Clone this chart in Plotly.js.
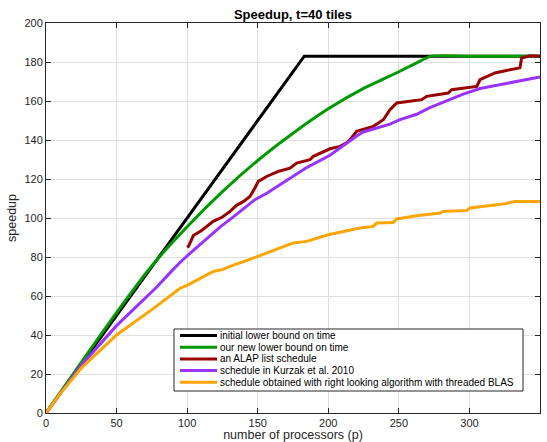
<!DOCTYPE html>
<html>
<head>
<meta charset="utf-8">
<script src="https://cdn.plot.ly/plotly-3.0.1.min.js"></script>
<style>html,body{margin:0;padding:0;background:#fff;}#chart{width:547px;height:442px;}</style>
</head>
<body>
<div id="chart"></div>
<script>
// ---- data ----
const seriesNames = [
  "initial lower bound on time",
  "our new lower bound on time",
  "an ALAP list schedule",
  "schedule in Kurzak et al. 2010",
  "schedule obtained with right looking algorithm with threaded BLAS"
];
const seriesColors = ["#000000", "#009900", "#990000", "#9933ff", "#ffa500"];

const pInitial = [0, 183, 350];
const sInitial = [0, 183, 183];

const pNewBound = [0, 25, 50, 75, 100, 125, 150, 175, 200, 225, 250, 262, 273, 300, 350];
const sNewBound = [0, 26, 51.5, 75.5, 95.5, 113.5, 129.5, 143.5, 156, 166.5, 175, 179.3, 183, 183, 183];

const pAlap = [100, 101, 104.4, 110, 118.5, 125, 130.4, 135, 140, 144.5, 148, 150.4, 156.3, 165, 172.9, 177.6, 187, 189.4, 201.2, 208.3, 213, 215.4, 220.1, 227, 231.9, 239, 243.7, 248.5, 259.1, 266.2, 269.7, 285, 287.4, 305.2, 307.5, 318.1, 328.7, 335.8, 337, 343, 350];
const sAlap = [85, 85.5, 91, 93.5, 98.3, 100.5, 103.4, 106.5, 108.5, 111, 115.4, 118.8, 121.3, 124, 125.6, 128.2, 129.9, 131.6, 135.5, 136.7, 138.5, 140.2, 144.4, 146, 147, 150.4, 155.5, 159, 159.8, 160.7, 162.4, 164.1, 165.8, 167.5, 170.9, 174.4, 176, 177, 182, 183.2, 183];

const pKurzak = [0, 10, 25, 50, 65, 78.3, 88, 94.9, 102, 109.1, 116.6, 123.7, 133.2, 140.2, 148, 156.7, 163.8, 170.9, 185, 201.2, 210.6, 220.1, 224.8, 236.6, 243.7, 250.8, 262.6, 272, 283.8, 295.6, 307.5, 319.3, 331.1, 342.9, 350];
const sKurzak = [0, 10, 24.5, 44.8, 55.5, 64.5, 72, 77.2, 81.8, 86.3, 91.4, 95.6, 100.8, 105.1, 109.4, 112.8, 116.2, 119.6, 126, 132.2, 137.3, 142.1, 144.1, 146.4, 148.1, 150.5, 153.2, 156.6, 160, 163.5, 166.4, 168.1, 169.8, 171.5, 172.3];

const pBlas = [0, 10, 25, 50, 75, 95, 100, 118.5, 125, 130.4, 150, 165.8, 175.2, 184.7, 200, 210.7, 222.5, 231.9, 234.3, 246, 248.5, 262.6, 279.2, 281.5, 298, 300.4, 314.6, 325.2, 332.3, 350];
const sBlas = [0, 9.8, 23, 40, 53, 64, 65.5, 72.6, 73.5, 75.2, 80.3, 84.6, 87.2, 88, 91.4, 93.1, 94.9, 95.7, 97.4, 97.7, 99.5, 101.2, 102.6, 103.4, 103.9, 105.1, 106.3, 107.3, 108.5, 108.5];

const xTicks = [0, 50, 100, 150, 200, 250, 300, 350];
const yTicks = [0, 20, 40, 60, 80, 100, 120, 140, 160, 180, 200];

const chartTitle = "Speedup, t=40 tiles";
const xTitle = "number of processors (p)";
const yTitle = "speedup";

// ---- build traces ----
const xs = [pInitial, pNewBound, pAlap, pKurzak, pBlas];
const ys = [sInitial, sNewBound, sAlap, sKurzak, sBlas];
const shapesOfLine = ["linear", "spline", "linear", "linear", "linear"];
const traces = xs.map((x, i) => ({
  x: x, y: ys[i], type: "scatter", mode: "lines", name: seriesNames[i],
  line: {color: seriesColors[i], width: 3, shape: shapesOfLine[i], smoothing: 0.6},
  showlegend: false, hoverinfo: "skip"
}));

// ---- custom MATLAB-like legend (paper coordinates) ----
const W = 547, H = 442, mL = 46, mR = 7, mT = 23, mB = 29;
const plotW = W - mL - mR, plotH = H - mT - mB;
const px2x = v => (v - mL) / plotW;
const py2y = v => (H - mB - v) / plotH;
const legBox = {x0: 174, x1: 523, y0: 329, y1: 391};
const rowY = [335.5, 347.2, 358.9, 370.6, 382.3];
const FONT = "Liberation Sans, Arial, Helvetica, sans-serif";
const shapes = [{
  type: "rect", xref: "paper", yref: "paper", layer: "above",
  x0: px2x(legBox.x0), x1: px2x(legBox.x1), y0: py2y(legBox.y1), y1: py2y(legBox.y0),
  line: {color: "#262626", width: 1}, fillcolor: "#ffffff"
}];
const annotations = [];
seriesNames.forEach((n, i) => {
  shapes.push({type: "line", xref: "paper", yref: "paper", layer: "above",
    x0: px2x(180), x1: px2x(217), y0: py2y(rowY[i]), y1: py2y(rowY[i]),
    line: {color: seriesColors[i], width: 3}});
  annotations.push({xref: "paper", yref: "paper", x: px2x(218.5), y: py2y(rowY[i]),
    xanchor: "left", yanchor: "middle", showarrow: false, text: n,
    font: {family: FONT, size: 10, color: "#000000"}, borderpad: 0});
});

const axisCommon = {
  showline: true, linecolor: "#262626", linewidth: 1, mirror: "ticks",
  ticks: "inside", ticklen: 5, tickcolor: "#262626", tickwidth: 1,
  showgrid: true, gridcolor: "#e0e0e0", gridwidth: 1, zeroline: false,
  tickfont: {family: FONT, size: 11, color: "#262626"},
  automargin: false
};

const layout = {
  width: W, height: H,
  margin: {l: mL, r: mR, t: mT, b: mB, pad: 0},
  paper_bgcolor: "#ffffff", plot_bgcolor: "#ffffff",
  font: {family: FONT, color: "#262626"},
  title: {text: "<b>" + chartTitle + "</b>", x: (mL + plotW / 2) / W, xanchor: "center",
    y: 1 - 14 / H, yanchor: "middle", yref: "container",
    font: {family: FONT, size: 13, color: "#000000"}},
  xaxis: Object.assign({}, axisCommon, {range: [0, 350], tickvals: xTicks, ticktext: xTicks.map(String),
    title: {text: xTitle, standoff: 0, font: {family: FONT, size: 12.5, color: "#262626"}}}),
  yaxis: Object.assign({}, axisCommon, {range: [0, 200], tickvals: yTicks, ticktext: yTicks.map(String),
    title: {text: yTitle, standoff: 5, font: {family: FONT, size: 12.5, color: "#262626"}}}),
  showlegend: false,
  shapes: shapes,
  annotations: annotations
};

Plotly.newPlot("chart", traces, layout, {displayModeBar: false, staticPlot: true});
</script>
</body>
</html>
